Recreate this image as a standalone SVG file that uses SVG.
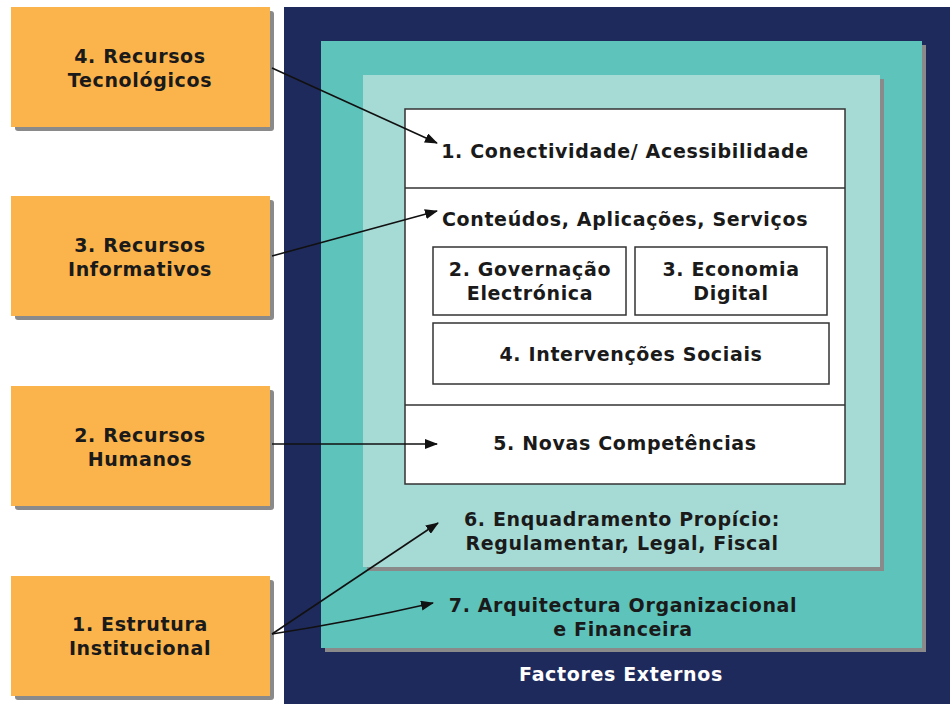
<svg xmlns="http://www.w3.org/2000/svg" width="950" height="704" viewBox="0 0 950 704">
<defs>
<style>
.t{font-family:"DejaVu Sans",Verdana,sans-serif;font-weight:bold;font-size:19px;letter-spacing:0.65px;fill:#1a1a1a;text-anchor:middle}
.w{fill:#ffffff}
.org{fill:#fbb44c}
.sh{fill:#8a8a8a}
.box{fill:#ffffff;stroke:#333333;stroke-width:1.5}
.ln{fill:none;stroke:#111111;stroke-width:1.6;marker-end:url(#ah)}
</style>
<marker id="ah" viewBox="0 0 13 10" refX="12" refY="5" markerWidth="13" markerHeight="10" markerUnits="userSpaceOnUse" orient="auto">
<path d="M0,0 L13,5 L0,10 z" fill="#111111"/>
</marker>
</defs>
<rect width="950" height="704" fill="#ffffff"/>
<g id="externos">
<rect x="284" y="7" width="666" height="697" fill="#1f2a5c"/>
<text class="t w" x="621" y="681">Factores Externos</text>
</g>
<g id="arquitectura">
<rect x="325" y="45" width="601" height="607" class="sh"/>
<rect x="321" y="41" width="601" height="607" fill="#5ec3bb"/>
<text class="t" x="623" y="612">7. Arquitectura Organizacional</text>
<text class="t" x="623" y="636">e Financeira</text>
</g>
<g id="enquadramento">
<rect x="367" y="79" width="517" height="492" class="sh"/>
<rect x="363" y="75" width="517" height="492" fill="#a6dad5"/>
<text class="t" x="622" y="526">6. Enquadramento Propício:</text>
<text class="t" x="622" y="550">Regulamentar, Legal, Fiscal</text>
</g>
<g id="nucleo">
<rect x="405" y="109" width="440" height="375" class="box"/>
<line x1="405" y1="188" x2="845" y2="188" stroke="#333333" stroke-width="1.5"/>
<line x1="405" y1="405" x2="845" y2="405" stroke="#333333" stroke-width="1.5"/>
</g>
<g id="conectividade">
<text class="t" x="625" y="158">1. Conectividade/ Acessibilidade</text>
</g>
<g id="conteudos">
<text class="t" x="625" y="226">Conteúdos, Aplicações, Serviços</text>
</g>
<g id="governacao">
<rect x="433" y="247" width="193" height="68" class="box"/>
<text class="t" x="530" y="276">2. Governação</text>
<text class="t" x="530" y="300">Electrónica</text>
</g>
<g id="economia">
<rect x="635" y="247" width="192" height="68" class="box"/>
<text class="t" x="731" y="276">3. Economia</text>
<text class="t" x="731" y="300">Digital</text>
</g>
<g id="intervencoes">
<rect x="433" y="323" width="396" height="61" class="box"/>
<text class="t" x="631" y="361">4. Intervenções Sociais</text>
</g>
<g id="competencias">
<text class="t" x="625" y="450">5. Novas Competências</text>
</g>
<g id="rec-tecnologicos">
<rect x="15" y="11" width="259" height="120" rx="3" class="sh"/>
<rect x="11" y="7" width="259" height="120" class="org"/>
<text class="t" x="140" y="63">4. Recursos</text>
<text class="t" x="140" y="87">Tecnológicos</text>
</g>
<g id="rec-informativos">
<rect x="15" y="200" width="259" height="120" rx="3" class="sh"/>
<rect x="11" y="196" width="259" height="120" class="org"/>
<text class="t" x="140" y="252">3. Recursos</text>
<text class="t" x="140" y="276">Informativos</text>
</g>
<g id="rec-humanos">
<rect x="15" y="390" width="259" height="120" rx="3" class="sh"/>
<rect x="11" y="386" width="259" height="120" class="org"/>
<text class="t" x="140" y="442">2. Recursos</text>
<text class="t" x="140" y="466">Humanos</text>
</g>
<g id="estrutura">
<rect x="15" y="580" width="259" height="120" rx="3" class="sh"/>
<rect x="11" y="576" width="259" height="120" class="org"/>
<text class="t" x="140" y="631">1. Estrutura</text>
<text class="t" x="140" y="655">Institucional</text>
</g>
<g id="connectors">
<path class="ln" d="M272,68 L437,143"/>
<path class="ln" d="M272,256 L437,211"/>
<path class="ln" d="M272,444 L437,444"/>
<path class="ln" d="M272,634 L438,523"/>
<path class="ln" d="M272,634 Q350,622 433,603"/>
</g>
</svg>
